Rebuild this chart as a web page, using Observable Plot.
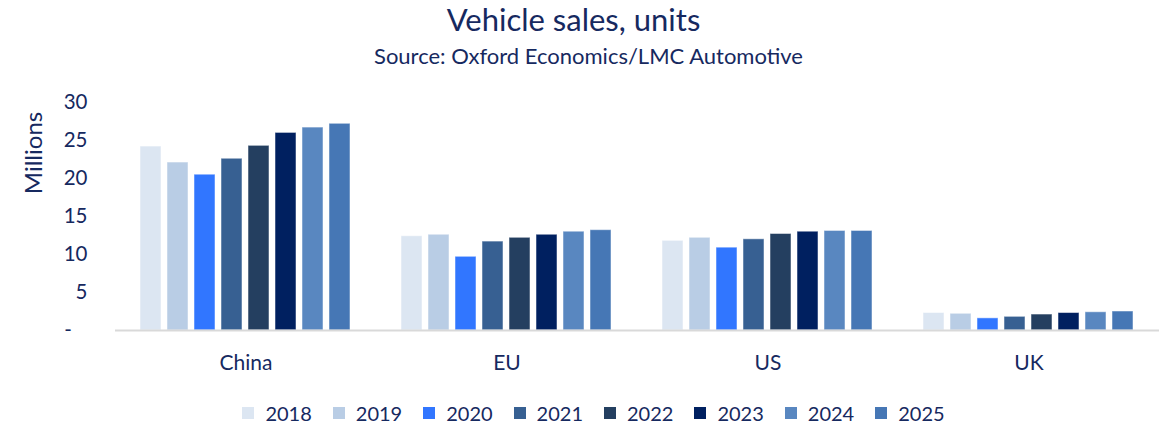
<!DOCTYPE html>
<html>
<head>
<meta charset="utf-8">
<script src="https://cdn.jsdelivr.net/npm/d3@7"></script>
<script src="https://cdn.jsdelivr.net/npm/@observablehq/plot@0.6"></script>
<style>
  body { margin: 0; background: #fff; font-family: Lato, "Open Sans", sans-serif; color: #16295f; }
  #wrap { width: 1165px; height: 428px; position: relative; }
  #title { position: absolute; top: 1px; left: -9px; width: 1165px; text-align: center; font-size: 31px; line-height: 36px; }
  #subtitle { position: absolute; top: 43px; left: 6px; width: 1165px; text-align: center; font-size: 22px; line-height: 26px; }
  #chart { position: absolute; top: 75px; left: 0; }
  #ylabel { position: absolute; left: 33px; top: 153px; transform: translate(-50%, -50%) rotate(-90deg); font-size: 24px; line-height: 26px; white-space: nowrap; }
  #legend { position: absolute; top: 401px; left: 11px; width: 1165px; display: flex; justify-content: center; font-size: 20px; line-height: 24px; }
  .item { display: flex; align-items: center; margin: 0 10.5px; }
  .sw { width: 12px; height: 12px; margin-right: 11px; }
</style>
</head>
<body>
<div id="wrap">
  <div id="title">Vehicle sales, units</div>
  <div id="subtitle">Source: Oxford Economics/LMC Automotive</div>
  <div id="chart"></div>
  <div id="ylabel">Millions</div>
  <div id="legend"></div>
</div>
<script>
const regions = ["China", "EU", "US", "UK"];
const years = ["2018", "2019", "2020", "2021", "2022", "2023", "2024", "2025"];
const colors = ["#dce6f2", "#b9cde5", "#3176ff", "#376092", "#243f60", "#002060", "#5987c0", "#4677b5"];
const china = [24.2, 22.1, 20.5, 22.6, 24.3, 26.0, 26.7, 27.2];
const eu = [12.4, 12.6, 9.7, 11.7, 12.2, 12.6, 13.0, 13.2];
const us = [11.8, 12.2, 10.9, 12.0, 12.7, 13.0, 13.1, 13.1];
const uk = [2.3, 2.2, 1.6, 1.8, 2.1, 2.3, 2.4, 2.5];
const yTicks = [0, 5, 10, 15, 20, 25, 30];

const series = [china, eu, us, uk];
const data = [];
regions.forEach((r, i) => years.forEach((y, j) => data.push({region: r, year: y, value: series[i][j]})));

const textColor = "#16295f";
const chart = Plot.plot({
  width: 1165,
  height: 310,
  marginLeft: 113,
  marginRight: 5,
  marginTop: 27,
  marginBottom: 55,
  style: {fontFamily: "Lato, 'Open Sans', sans-serif", color: textColor, background: "transparent"},
  fx: {domain: regions, padding: 0, label: null},
  x: {domain: years, paddingInner: 0.22, paddingOuter: 0.875, axis: null},
  y: {domain: [0, 30], ticks: yTicks, label: null},
  color: {domain: years, range: colors},
  marks: [
    Plot.axisFx({anchor: "bottom", tickSize: 0, tickPadding: 25, fontSize: 21, label: null}),
    Plot.axisY({ticks: yTicks, tickSize: 0, tickPadding: 28, fontSize: 20.5,
      tickFormat: d => d === 0 ? "-\u00a0\u00a0\u00a0" : String(d), label: null}),
    Plot.barY(data, {fx: "region", x: "year", y: "value", fill: "year", stroke: "#ffffff", strokeOpacity: 0.5, strokeWidth: 1}),
    Plot.ruleY([0], {stroke: "#d9d9d9", strokeWidth: 2})
  ]
});
document.getElementById("chart").appendChild(chart);

const legend = document.getElementById("legend");
years.forEach((y, i) => {
  const it = document.createElement("div");
  it.className = "item";
  const sw = document.createElement("span");
  sw.className = "sw";
  sw.style.background = colors[i];
  it.appendChild(sw);
  const tx = document.createElement("span");
  tx.textContent = y;
  it.appendChild(tx);
  legend.appendChild(it);
});
</script>
</body>
</html>
